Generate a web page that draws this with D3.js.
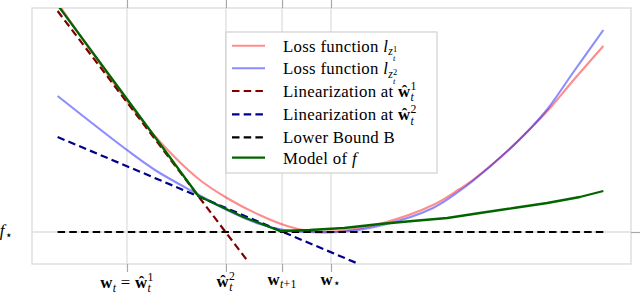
<!DOCTYPE html>
<html>
<head>
<meta charset="utf-8">
<script src="https://cdn.jsdelivr.net/npm/d3@7"></script>
<style>
  html, body { margin: 0; padding: 0; background: #fff; }
  svg { display: block; }
  text { font-family: "Liberation Serif", "Times New Roman", serif; fill: #000; letter-spacing: 0.3px; }
</style>
</head>
<body>
<svg id="chart" width="640" height="297"></svg>
<script>
// ---------------- data ----------------
// shared sample abscissae for the two loss functions
const curveX = [-0.68, 0, 0.29, 0.69, 0.98, 1.30, 1.57, 1.79, 2.09, 2.51, 3.00, 3.26, 3.39, 3.73, 3.95, 4.13, 4.37, 4.67];
const loss1  = [2.29, 1.31, 0.94, 0.54, 0.34, 0.17, 0.06, 0.01, 0.01, 0.09, 0.27, 0.43, 0.52, 0.81, 1.03, 1.22, 1.51, 1.86];
const loss2  = [1.36, 0.82, 0.61, 0.38, 0.22, 0.08, 0.015, 0.0, 0.0, 0.07, 0.24, 0.41, 0.51, 0.81, 1.03, 1.24, 1.59, 2.02];

// model of f
const modelX = [-0.68, 0, 0.70, 1.14, 1.50, 1.79, 2.13, 2.48, 2.80, 3.14, 3.46, 3.79, 4.12, 4.44, 4.67];
const model  = [2.27, 1.33, 0.36, 0.15, 0.01, 0.02, 0.04, 0.08, 0.11, 0.14, 0.19, 0.24, 0.29, 0.35, 0.41];

// linearizations and lower bound (end points)
const lin1X  = [-0.68, 1.19];
const lin1   = [2.21, -0.30];
const lin2X  = [-0.68, 2.25];
const lin2   = [0.95, -0.31];
const boundX = [-0.68, 4.67];
const bound  = [0, 0];

// ticks
const xTickValues = [0, 0.97, 1.52, 2.0];
const yTickValues = [0];

// legend labels
const legendNames = ["Loss function", "Loss function", "Linearization at", "Linearization at", "Lower Bound B", "Model of"];

// ---------------- layout ----------------
const W = 640, H = 297;
const plot = { left: 32, right: 631, top: 8, bottom: 264 };
const x = d3.scaleLinear().domain([-0.931, 4.941]).range([plot.left, plot.right]);
const y = d3.scaleLinear().domain([-0.32, 2.24]).range([plot.bottom, plot.top]);

const svg = d3.select("#chart");
const FS = 16.8;

// rich text helper: segments {t, i (italic), b (bold), off (baseline offset, em), s (size factor), back (em shift left)}
function rich(sel, segs, size) {
  let cur = 0;
  segs.forEach(sg => {
    const off = (sg.off || 0) * size;
    const ts = sel.append("tspan")
      .attr("dy", off - cur)
      .attr("font-size", (sg.s || 1) * size)
      .style("font-style", sg.i ? "italic" : "normal")
      .style("font-weight", sg.b ? "bold" : "normal")
      .text(sg.t);
    if (sg.back) ts.attr("dx", -sg.back * size);
    cur = off;
  });
}

// frame
svg.append("rect")
  .attr("x", plot.left).attr("y", plot.top)
  .attr("width", plot.right - plot.left).attr("height", plot.bottom - plot.top)
  .attr("fill", "none").attr("stroke", "#dadada").attr("stroke-width", 1.3);

// grid lines
const grid = svg.append("g");
grid.selectAll("line.vx").data(xTickValues).join("line")
  .attr("x1", d => x(d)).attr("x2", d => x(d))
  .attr("y1", plot.top).attr("y2", plot.bottom)
  .attr("stroke", "#dedede").attr("stroke-width", 1.3);
grid.selectAll("line.hy").data(yTickValues).join("line")
  .attr("x1", plot.left).attr("x2", plot.right)
  .attr("y1", d => y(d)).attr("y2", d => y(d))
  .attr("stroke", "#dedede").attr("stroke-width", 1.3);

// ticks via d3 axes (no labels; labels drawn as rich text)
const axB = svg.append("g").attr("transform", `translate(0,${plot.bottom})`)
  .call(d3.axisBottom(x).tickValues(xTickValues).tickSize(8).tickFormat(""));
const axT = svg.append("g").attr("transform", `translate(0,${plot.top})`)
  .call(d3.axisTop(x).tickValues(xTickValues).tickSize(8).tickFormat(""));
const axR = svg.append("g").attr("transform", `translate(${plot.right},0)`)
  .call(d3.axisRight(y).tickValues(yTickValues).tickSize(9).tickFormat(""));
[axB, axT, axR].forEach(a => {
  a.select(".domain").remove();
  a.selectAll(".tick line").attr("stroke", "#a8a8a8").attr("stroke-width", 1.2);
});

// x tick labels
const xTickMarkup = [
  [{t:"w", b:1}, {t:"t", i:1, s:0.7, off:0.22}, {t:" = "}, {t:"ŵ", b:1}, {t:"1", s:0.7, off:-0.42}, {t:"t", i:1, s:0.7, off:0.26, back:0.36}],
  [{t:"ŵ", b:1}, {t:"2", s:0.7, off:-0.42}, {t:"t", i:1, s:0.7, off:0.26, back:0.36}],
  [{t:"w", b:1}, {t:"t", i:1, s:0.7, off:0.22}, {t:"+1", s:0.7, off:0.22}],
  [{t:"w", b:1}, {t:"⋆", s:0.7, off:0.12}]
];
const xTickBase = [288, 287, 284.5, 284.5];
xTickValues.forEach((v, k) => {
  const t = svg.append("text").attr("x", x(v)).attr("y", xTickBase[k]).attr("text-anchor", "middle");
  rich(t, xTickMarkup[k], FS);
});

// y tick label
{
  const t = svg.append("text").attr("x", 13).attr("y", y(yTickValues[0]) + 4).attr("text-anchor", "end");
  rich(t, [{t:"f", i:1}, {t:"⋆", s:0.7, off:0.18}], FS);
}

// curves
svg.append("clipPath").attr("id", "pc").append("rect")
  .attr("x", plot.left).attr("y", plot.top)
  .attr("width", plot.right - plot.left).attr("height", plot.bottom - plot.top);
const g = svg.append("g").attr("clip-path", "url(#pc)");

const smooth = d3.line().x(d => x(d[0])).y(d => y(d[1])).curve(d3.curveCatmullRom.alpha(0.5));
const straight = d3.line().x(d => x(d[0])).y(d => y(d[1]));
const zip = (xs, ys) => xs.map((v, i) => [v, ys[i]]);

const series = [
  { pts: zip(curveX, loss1), gen: smooth, color: "#ff0000", op: 0.45, w: 2.1, dash: null },
  { pts: zip(curveX, loss2), gen: smooth, color: "#0000ff", op: 0.45, w: 2.1, dash: null },
  { pts: zip(lin1X, lin1), gen: straight, color: "#800000", op: 1, w: 2.2, dash: "7.5,4.2" },
  { pts: zip(lin2X, lin2), gen: straight, color: "#00008b", op: 1, w: 2.2, dash: "7.5,4.2" },
  { pts: zip(boundX, bound), gen: straight, color: "#000000", op: 1, w: 2.2, dash: "7.5,4.2" },
  { pts: zip(modelX, model), gen: straight, color: "#006400", op: 1, w: 2.3, dash: null }
];
series.forEach(s => {
  g.append("path").attr("d", s.gen(s.pts))
    .attr("fill", "none").attr("stroke", s.color).attr("stroke-opacity", s.op)
    .attr("stroke-width", s.w).attr("stroke-dasharray", s.dash)
    .attr("stroke-linejoin", "round");
});

// legend
const leg = { x0: 226, y0: 32, x1: 437, y1: 173 };
svg.append("rect").attr("x", leg.x0).attr("y", leg.y0)
  .attr("width", leg.x1 - leg.x0).attr("height", leg.y1 - leg.y0)
  .attr("fill", "#fff").attr("stroke", "#d0d0d0").attr("stroke-width", 1.2);
const rowY = [45.7, 68.3, 91, 114.3, 137.3, 157.7];
const legendMarkup = [
  [{t:" "}, {t:"l", i:1}, {t:"z", i:1, s:0.7, off:0.2}, {t:"1", s:0.5, off:0.02}, {t:"t", i:1, s:0.5, off:0.58, back:0.27}],
  [{t:" "}, {t:"l", i:1}, {t:"z", i:1, s:0.7, off:0.2}, {t:"2", s:0.5, off:0.02}, {t:"t", i:1, s:0.5, off:0.58, back:0.27}],
  [{t:" "}, {t:"ŵ", b:1}, {t:"1", s:0.7, off:-0.42}, {t:"t", i:1, s:0.7, off:0.26, back:0.36}],
  [{t:" "}, {t:"ŵ", b:1}, {t:"2", s:0.7, off:-0.42}, {t:"t", i:1, s:0.7, off:0.26, back:0.36}],
  [],
  [{t:" "}, {t:"f", i:1}]
];
series.forEach((s, k) => {
  svg.append("line").attr("x1", 232).attr("x2", 265).attr("y1", rowY[k]).attr("y2", rowY[k])
    .attr("stroke", s.color).attr("stroke-opacity", s.op).attr("stroke-width", s.w)
    .attr("stroke-dasharray", s.dash);
  const t = svg.append("text").attr("x", 283).attr("y", rowY[k] + 6).attr("font-size", FS);
  rich(t, [{t: legendNames[k]}].concat(legendMarkup[k]), FS);
});
</script>
</body>
</html>
